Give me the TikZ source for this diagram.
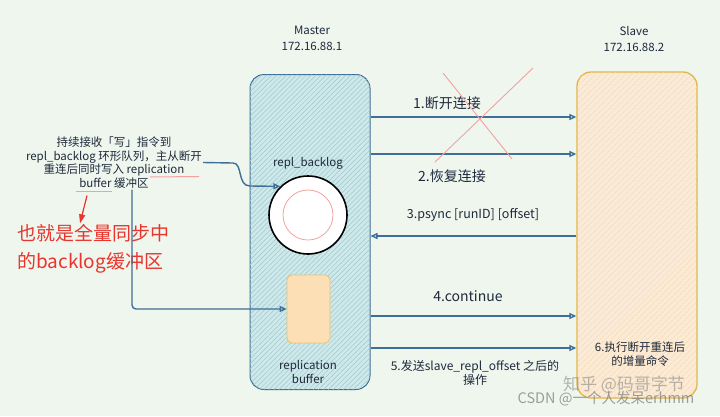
\documentclass[tikz,border=0pt]{standalone}
\usepackage{fontspec}
\setmainfont{Noto Sans CJK SC}
\usetikzlibrary{arrows.meta,patterns.meta}

\definecolor{achter}{HTML}{EEF6EE}
\definecolor{lijn}{HTML}{3F6E96}
\definecolor{tekst}{HTML}{1E2A3C}
\definecolor{mvul}{HTML}{CFE8EA}
\definecolor{marcering}{HTML}{9CC9CF}
\definecolor{svul}{HTML}{FBEBD6}
\definecolor{smarcering}{HTML}{F3D6B2}
\definecolor{srand}{HTML}{E2B447}
\definecolor{bvul}{HTML}{FDDFB5}
\definecolor{rood}{HTML}{E8352D}
\definecolor{roze}{HTML}{F2A3A0}

\tikzset{
  box/.style={rounded corners=14pt, line width=1pt},
  pijl/.style={->, draw=lijn, line width=1.4pt},
  lbl/.style={font=\fontsize{11.5}{14}\selectfont, text=tekst, align=center, inner sep=1pt},
  groot/.style={font=\fontsize{14}{16}\selectfont, text=tekst, inner sep=1pt},
}

\begin{document}
\begin{tikzpicture}[x=1pt, y=-1pt, >={Triangle[open,length=7pt,width=6pt]}]

  % achtergrond
  \fill[achter] (0,0) rectangle (720,416);
  \useasboundingbox (0,0) rectangle (720,416);

  % Master
  \node[box, draw=lijn, fill=mvul,
        postaction={pattern={Lines[angle=45,distance=3.5pt,line width=0.5pt]}, pattern color=marcering},
        minimum width=120, minimum height=315] (master) at (310,232) {};
  \node[lbl, font=\fontsize{11.5}{16}\selectfont] (mlabel) at (312,38) {Master\\172.16.88.1};

  % Slave
  \node[box, draw=srand, line width=1.3pt, fill=svul,
        postaction={pattern={Lines[angle=45,distance=4pt,line width=0.5pt]}, pattern color=smarcering},
        minimum width=120, minimum height=326] (slave) at (637,235) {};
  \node[lbl, font=\fontsize{11.5}{16}\selectfont] (slabel) at (634,39) {Slave\\172.16.88.2};
  \node[lbl, font=\fontsize{11.5}{14}\selectfont] (stap6) at (640,354) {6.执行断开重连后\\的增量命令};

  % repl_backlog
  \node[lbl] (blabel) at (308,163) {repl\_backlog};
  \node[circle, draw=black, line width=1.6pt, fill=white, minimum size=78] (backlog) at (308,215) {};
  \draw[roze, line width=0.8pt] (backlog.center) circle (25);

  % replication buffer
  \node[draw=srand!80, fill=bvul, rounded corners=5pt, line width=0.8pt,
        minimum width=43, minimum height=68] (buf) at (308.5,309) {};
  \node[lbl] (buflabel) at (308,372) {replication\\buffer};

  % uitleg links
  \node[lbl, font=\fontsize{11.5}{13.7}\selectfont] (note) at (114,162.5)
    {持续接收「写」指令到\\repl\_backlog 环形队列，主从断开\\重连后同时写入 replication\\buffer 缓冲区};
  \draw[roze, line width=1pt] (150,177) -- (199,176.5);
  \draw[roze, line width=1pt] (76,191) -- (112,191);
  \node[font=\fontsize{19}{28}\selectfont, text=rood, align=left, anchor=west, inner sep=1pt]
    (rednote) at (16,249) {也就是全量同步中\\的backlog缓冲区};
  \draw[rood, line width=1.2pt, -{Triangle[length=9pt,width=6pt]}]
    ([yshift=-6pt]note.south -| 87,0) -- (rednote.north -| 80,0);

  % naar de buffers
  \draw[pijl] (note.east) -- (233,163) .. controls (243,163) and (237,186) .. (250,186) -- (backlog.134);
  \draw[pijl, rounded corners=4pt] (note.south -| 132,0) |- (buf.west);

  % stappen
  \draw[pijl] (master.east |- 0,117) -- (slave.west |- 0,117);
  \node[groot] (stap1) at (447,103) {1.断开连接};
  \draw[pijl] (master.east |- 0,154) -- (slave.west |- 0,154);
  \node[groot] (stap2) at (452,176) {2.恢复连接};
  \draw[roze, line width=0.9pt] (443,73) -- (512,159);
  \draw[roze, line width=0.9pt] (533,68) -- (435,162);

  \draw[pijl] (slave.west |- 0,236) -- (master.east |- 0,236);
  \node[lbl, font=\fontsize{12.5}{14}\selectfont] (stap3) at (473,215) {3.psync [runID] [offset]};

  \draw[pijl] (master.east |- 0,316) -- (slave.west |- 0,316);
  \node[groot] (stap4) at (468,296) {4.continue};

  \draw[pijl] (master.east |- 0,348) -- (slave.west |- 0,348);
  \node[lbl, font=\fontsize{12}{13.5}\selectfont] (stap5) at (475,373) {5.发送slave\_repl\_offset 之后的\\操作};

  % watermerk
  \node[text=gray, opacity=0.55, font=\fontsize{17}{18}\selectfont, inner sep=0pt] (wm1) at (624,385) {知乎 @码哥字节};
  \node[text=gray, opacity=0.75, font=\fontsize{14.5}{16}\selectfont, inner sep=0pt] (wm2) at (606,399) {CSDN @一个人发呆erhmm};

\end{tikzpicture}
\end{document}
